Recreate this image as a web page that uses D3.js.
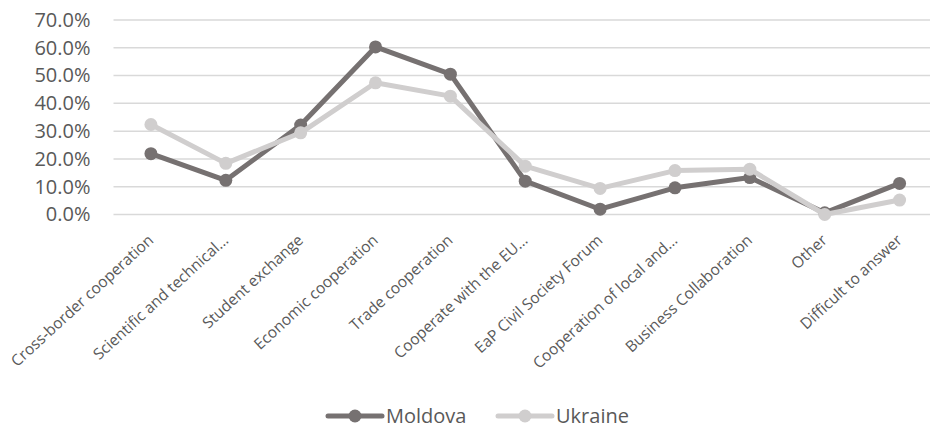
<!DOCTYPE html>
<html>
<head>
<meta charset="utf-8">
<script src="https://cdn.jsdelivr.net/npm/d3@7"></script>
<style>
  html, body { margin: 0; padding: 0; background: #fff; }
  svg { display: block; font-family: "Open Sans", "Noto Sans", sans-serif; }
</style>
</head>
<body>
<svg id="chart" width="930" height="429"></svg>
<script>
// Areas of cooperation, share of respondents
const categories = [
  "Cross-border cooperation",
  "Scientific and technical…",
  "Student exchange",
  "Economic cooperation",
  "Trade cooperation",
  "Cooperate with the EU…",
  "EaP Civil Society Forum",
  "Cooperation of local and…",
  "Business Collaboration",
  "Other",
  "Difficult to answer"
];
const moldova = [0.219, 0.123, 0.322, 0.603, 0.505, 0.120, 0.019, 0.096, 0.133, 0.006, 0.112];
const ukraine = [0.324, 0.184, 0.294, 0.474, 0.426, 0.174, 0.094, 0.158, 0.163, 0.000, 0.052];
const yTicks = [0, 0.1, 0.2, 0.3, 0.4, 0.5, 0.6, 0.7];
const seriesNames = ["Moldova", "Ukraine"];
const seriesColors = ["#767171", "#D0CECE"];

const svg = d3.select("#chart");
const plot = { left: 113.5, right: 937, top: 20, bottom: 214.5 };

const x = d3.scalePoint()
  .domain(categories)
  .range([plot.left, plot.right])
  .padding(0.5);

const y = d3.scaleLinear()
  .domain([0, 0.7])
  .range([plot.bottom, plot.top]);

// Horizontal gridlines
svg.append("g")
  .selectAll("line")
  .data(yTicks)
  .join("line")
  .attr("x1", plot.left)
  .attr("x2", 930)
  .attr("y1", d => y(d))
  .attr("y2", d => y(d))
  .attr("stroke", "#D9D9D9")
  .attr("stroke-width", 1.5);

// Y axis labels
const yAxis = d3.axisLeft(y)
  .tickValues(yTicks)
  .tickFormat(d3.format(".1%"))
  .tickSize(0)
  .tickPadding(0);
svg.append("g")
  .attr("transform", `translate(${plot.left - 23},0)`)
  .call(yAxis)
  .call(g => g.select(".domain").remove())
  .call(g => g.selectAll("text")
    .attr("fill", "#595959")
    .attr("font-size", 20)
    .attr("font-family", "Open Sans, sans-serif"));

// X axis labels, rotated
const xAxis = d3.axisBottom(x).tickSize(0).tickPadding(0);
svg.append("g")
  .attr("transform", `translate(0,${plot.bottom})`)
  .call(xAxis)
  .call(g => g.select(".domain").remove())
  .call(g => g.selectAll("text")
    .attr("fill", "#595959")
    .attr("font-size", 15.5)
    .attr("font-family", "Open Sans, sans-serif")
    .attr("text-anchor", "end")
    .attr("dy", null)
    .attr("y", 0)
    .attr("transform", "translate(3,27) rotate(-42.5)"));

// Lines and markers
const line = d3.line()
  .x((d, i) => x(categories[i]))
  .y(d => y(d));

[moldova, ukraine].forEach((vals, s) => {
  const g = svg.append("g");
  g.append("path")
    .datum(vals)
    .attr("d", line)
    .attr("fill", "none")
    .attr("stroke", seriesColors[s])
    .attr("stroke-width", 5)
    .attr("stroke-linejoin", "round");
  g.selectAll("circle")
    .data(vals)
    .join("circle")
    .attr("cx", (d, i) => x(categories[i]))
    .attr("cy", d => y(d))
    .attr("r", 6.5)
    .attr("fill", seriesColors[s]);
});

// Legend
const legendItems = [
  { name: seriesNames[0], color: seriesColors[0], x: 328 },
  { name: seriesNames[1], color: seriesColors[1], x: 498 }
];
const ly = 416;
const lg = svg.append("g");
legendItems.forEach(it => {
  lg.append("line")
    .attr("x1", it.x).attr("x2", it.x + 54)
    .attr("y1", ly).attr("y2", ly)
    .attr("stroke", it.color).attr("stroke-width", 5)
    .attr("stroke-linecap", "round");
  lg.append("circle")
    .attr("cx", it.x + 27).attr("cy", ly).attr("r", 6.5)
    .attr("fill", it.color);
  lg.append("text")
    .attr("x", it.x + 58).attr("y", ly)
    .attr("dy", "0.35em")
    .attr("fill", "#595959")
    .attr("font-size", 20)
    .text(it.name);
});
</script>
</body>
</html>
